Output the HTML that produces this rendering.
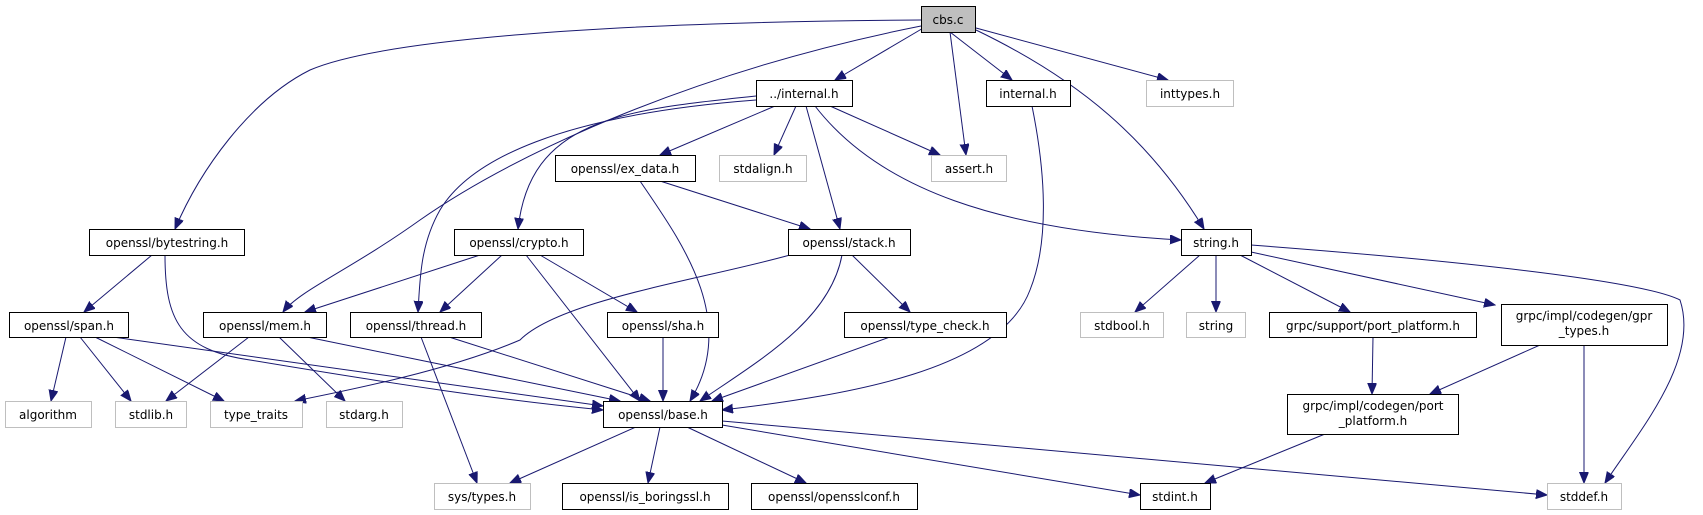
<!DOCTYPE html>
<html><head><meta charset="utf-8"><style>
html,body{margin:0;padding:0;background:#fff;}
svg{display:block;}
text{font-family:"DejaVu Sans","Liberation Sans",sans-serif;font-size:12px;fill:#000;}
.n{fill:#fff;stroke:#000;stroke-width:1;}
.g{fill:#fff;stroke:#bfbfbf;stroke-width:1;}
.e{fill:none;stroke:#191970;stroke-width:1;}
</style></head><body>
<svg width="1703" height="515" viewBox="0 0 1703 515" xmlns="http://www.w3.org/2000/svg">
<defs><marker id="a" markerUnits="userSpaceOnUse" markerWidth="12" markerHeight="10" refX="11" refY="4.5" orient="auto"><path d="M0,0 L11,4.5 L0,9 z" fill="#191970" stroke="#191970"/></marker></defs>
<g marker-end="url(#a)">
<path class="e" d="M925,27 L835,80"/>
<path class="e" d="M950,32 L1012,80"/>
<path class="e" d="M976,28 L1168,80"/>
<path class="e" d="M950,32 L966,155"/>
<path class="e" d="M976,30 C1080,80 1150,140 1204,229"/>
<path class="e" d="M921,26 C700,70 520,150 420,220 C350,270 300,290 283,312"/>
<path class="e" d="M921,20 C600,22 380,40 310,70 C250,100 200,170 175,229"/>
<path class="e" d="M775,106 L660,155"/>
<path class="e" d="M796,106 L774,155"/>
<path class="e" d="M830,106 L940,155"/>
<path class="e" d="M806,106 L840,229"/>
<path class="e" d="M815,106 C880,190 1000,230 1181,240"/>
<path class="e" d="M756,96 C620,110 530,120 518,229"/>
<path class="e" d="M756,100 C560,115 470,160 440,210 C420,245 420,280 418,312"/>
<path class="e" d="M660,181 L810,229"/>
<path class="e" d="M640,181 C680,240 740,320 690,401"/>
<path class="e" d="M480,255 L305,312"/>
<path class="e" d="M502,255 L440,312"/>
<path class="e" d="M540,255 L637,312"/>
<path class="e" d="M526,255 L640,401"/>
<path class="e" d="M790,255 C700,280 560,300 520,340 C450,370 350,390 295,401"/>
<path class="e" d="M842,255 C830,320 760,360 700,401"/>
<path class="e" d="M852,255 L910,312"/>
<path class="e" d="M152,255 L84,312"/>
<path class="e" d="M165,255 C165,320 180,350 250,360 C400,385 500,400 603,410"/>
<path class="e" d="M66,337 L51,401"/>
<path class="e" d="M80,337 L131,401"/>
<path class="e" d="M95,337 L224,401"/>
<path class="e" d="M113,337 L603,406"/>
<path class="e" d="M249,337 L166,401"/>
<path class="e" d="M279,337 L345,401"/>
<path class="e" d="M307,337 L620,401"/>
<path class="e" d="M421,337 L477,483"/>
<path class="e" d="M449,337 L650,401"/>
<path class="e" d="M663,337 L663,401"/>
<path class="e" d="M890,337 L712,401"/>
<path class="e" d="M1032,106 C1045,170 1050,240 1030,290 C1000,370 850,395 722,410"/>
<path class="e" d="M636,427 L510,483"/>
<path class="e" d="M660,427 L648,483"/>
<path class="e" d="M687,427 L806,483"/>
<path class="e" d="M722,425 L1140,495"/>
<path class="e" d="M722,421 L1547,495"/>
<path class="e" d="M1200,255 L1135,312"/>
<path class="e" d="M1216,255 L1216,312"/>
<path class="e" d="M1240,255 L1350,312"/>
<path class="e" d="M1251,252 L1495,305"/>
<path class="e" d="M1251,245 C1450,260 1640,280 1680,300 C1700,360 1640,430 1605,483"/>
<path class="e" d="M1373,337 L1372,394"/>
<path class="e" d="M1540,345 L1430,394"/>
<path class="e" d="M1584,345 L1584,483"/>
<path class="e" d="M1325,434 L1205,483"/>
</g>
<g text-anchor="middle">
<rect x="921.5" y="6.5" width="54" height="26" fill="#bfbfbf" stroke="#000"/><text x="948" y="24">cbs.c</text>
<rect class="n" x="756.5" y="80.5" width="96" height="26"/><text x="804" y="98">../internal.h</text>
<rect class="n" x="986.5" y="80.5" width="84" height="26"/><text x="1028" y="98">internal.h</text>
<rect class="g" x="1146.5" y="80.5" width="87" height="26"/><text x="1190" y="98">inttypes.h</text>
<rect class="n" x="555.5" y="155.5" width="140" height="26"/><text x="625" y="173">openssl/ex_data.h</text>
<rect class="g" x="719.5" y="155.5" width="87" height="26"/><text x="763" y="173">stdalign.h</text>
<rect class="g" x="931.5" y="155.5" width="75" height="26"/><text x="969" y="173">assert.h</text>
<rect class="n" x="89.5" y="229.5" width="155" height="26"/><text x="167" y="247">openssl/bytestring.h</text>
<rect class="n" x="454.5" y="229.5" width="129" height="26"/><text x="519" y="247">openssl/crypto.h</text>
<rect class="n" x="788.5" y="229.5" width="122" height="26"/><text x="849" y="247">openssl/stack.h</text>
<rect class="n" x="1181.5" y="229.5" width="70" height="26"/><text x="1216" y="247">string.h</text>
<rect class="n" x="9.5" y="312.5" width="119" height="25"/><text x="69" y="330">openssl/span.h</text>
<rect class="n" x="203.5" y="312.5" width="123" height="25"/><text x="265" y="330">openssl/mem.h</text>
<rect class="n" x="350.5" y="312.5" width="131" height="25"/><text x="416" y="330">openssl/thread.h</text>
<rect class="n" x="607.5" y="312.5" width="111" height="25"/><text x="663" y="330">openssl/sha.h</text>
<rect class="n" x="844.5" y="312.5" width="162" height="25"/><text x="925" y="330">openssl/type_check.h</text>
<rect class="g" x="1080.5" y="312.5" width="83" height="25"/><text x="1122" y="330">stdbool.h</text>
<rect class="g" x="1186.5" y="312.5" width="59" height="25"/><text x="1216" y="330">string</text>
<rect class="n" x="1269.5" y="312.5" width="207" height="25"/><text x="1373" y="330">grpc/support/port_platform.h</text>
<rect class="n" x="1501.5" y="304.5" width="166" height="41"/><text x="1584" y="320">grpc/impl/codegen/gpr</text><text x="1584" y="335">_types.h</text>
<rect class="n" x="1287.5" y="394.5" width="171" height="40"/><text x="1373" y="410">grpc/impl/codegen/port</text><text x="1373" y="425">_platform.h</text>
<rect class="g" x="5.5" y="401.5" width="86" height="26"/><text x="48" y="419">algorithm</text>
<rect class="g" x="115.5" y="401.5" width="71" height="26"/><text x="151" y="419">stdlib.h</text>
<rect class="g" x="210.5" y="401.5" width="92" height="26"/><text x="256" y="419">type_traits</text>
<rect class="g" x="326.5" y="401.5" width="76" height="26"/><text x="364" y="419">stdarg.h</text>
<rect class="n" x="603.5" y="401.5" width="119" height="26"/><text x="663" y="419">openssl/base.h</text>
<rect class="g" x="434.5" y="483.5" width="96" height="26"/><text x="482" y="501">sys/types.h</text>
<rect class="n" x="562.5" y="483.5" width="166" height="26"/><text x="645" y="501">openssl/is_boringssl.h</text>
<rect class="n" x="751.5" y="483.5" width="166" height="26"/><text x="834" y="501">openssl/opensslconf.h</text>
<rect class="n" x="1140.5" y="483.5" width="70" height="26"/><text x="1175" y="501">stdint.h</text>
<rect class="g" x="1547.5" y="483.5" width="74" height="26"/><text x="1584" y="501">stddef.h</text>
</g>
</svg>
</body></html>
